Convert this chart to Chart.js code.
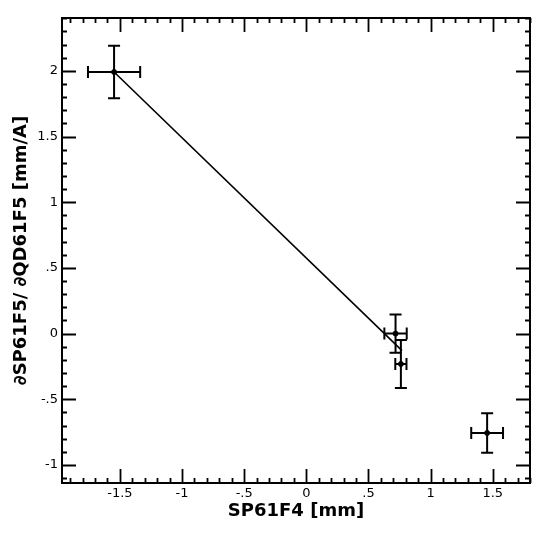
<!DOCTYPE html>
<html>
<head>
<meta charset="utf-8">
<script src="https://cdn.jsdelivr.net/npm/chart.js@4/dist/chart.umd.min.js"></script>
<style>
  html, body { margin: 0; padding: 0; background: #fff; }
  #wrap { width: 539px; height: 539px; }
</style>
</head>
<body>
<div id="wrap"><canvas id="chart"></canvas></div>
<script>
// measured points with error bars
var xVals = [-1.547, 0.718, 0.761, 1.455];
var yVals = [1.991, 0.0, -0.231, -0.756];
var xErr = [0.21, 0.09, 0.045, 0.128];
var yErr = [0.2, 0.145, 0.183, 0.15];

// straight line drawn through the first points
var lineX = [-1.547, 0.77];
var lineY = [1.991, -0.13];

var xTicks = [-1.5, -1, -0.5, 0, 0.5, 1, 1.5];
var yTicks = [-1, -0.5, 0, 0.5, 1, 1.5, 2];

function fmt(v) {
    return String(v).replace('0.', '.');
}

var pts = xVals.map(function (x, i) { return {x: x, y: yVals[i]}; });
var linePts = lineX.map(function (x, i) { return {x: x, y: lineY[i]}; });

// frame, inward ticks and error bars
var decor = {
    id: 'decor',
    afterDatasetsDraw: function (chart) {
        var ctx = chart.ctx;
        var a = chart.chartArea;
        var xs = chart.scales.x, ys = chart.scales.y;
        ctx.save();
        ctx.strokeStyle = '#000';
        ctx.lineCap = 'butt';

        // error bars
        ctx.lineWidth = 2;
        var cap = 6;
        for (var i = 0; i < xVals.length; i++) {
            var px = xs.getPixelForValue(xVals[i]);
            var py = ys.getPixelForValue(yVals[i]);
            var x0 = xs.getPixelForValue(xVals[i] - xErr[i]);
            var x1 = xs.getPixelForValue(xVals[i] + xErr[i]);
            var y0 = ys.getPixelForValue(yVals[i] - yErr[i]);
            var y1 = ys.getPixelForValue(yVals[i] + yErr[i]);
            ctx.beginPath();
            ctx.moveTo(x0, py); ctx.lineTo(x1, py);
            ctx.moveTo(x0, py - cap); ctx.lineTo(x0, py + cap);
            ctx.moveTo(x1, py - cap); ctx.lineTo(x1, py + cap);
            ctx.moveTo(px, y0); ctx.lineTo(px, y1);
            ctx.moveTo(px - cap, y0); ctx.lineTo(px + cap, y0);
            ctx.moveTo(px - cap, y1); ctx.lineTo(px + cap, y1);
            ctx.stroke();
        }

        // frame
        ctx.lineWidth = 2;
        ctx.strokeRect(a.left, a.top, a.right - a.left, a.bottom - a.top);

        // minor ticks every 0.1, major every 0.5
        var major = 14, minor = 5;
        var v, p, len;
        ctx.beginPath();
        for (var k = Math.ceil(xs.min * 10); k <= Math.floor(xs.max * 10); k++) {
            v = k / 10;
            p = Math.round(xs.getPixelForValue(v)) + 0.5;
            len = (k % 5 === 0) ? major : minor;
            ctx.moveTo(p, a.bottom); ctx.lineTo(p, a.bottom - len);
            ctx.moveTo(p, a.top); ctx.lineTo(p, a.top + len);
        }
        for (k = Math.ceil(ys.min * 10); k <= Math.floor(ys.max * 10); k++) {
            v = k / 10;
            p = Math.round(ys.getPixelForValue(v)) + 0.5;
            len = (k % 5 === 0) ? major : minor;
            ctx.moveTo(a.left, p); ctx.lineTo(a.left + len, p);
            ctx.moveTo(a.right, p); ctx.lineTo(a.right - len, p);
        }
        ctx.lineWidth = 1.8;
        ctx.stroke();
        ctx.restore();
    }
};

var tickFont = {family: 'DejaVu Sans', size: 13};
var titleFont = {family: 'DejaVu Sans', size: 18, weight: 'bold'};

new Chart(document.getElementById('chart'), {
    type: 'scatter',
    data: {
        datasets: [{
            type: 'line',
            data: linePts,
            borderColor: '#000',
            borderWidth: 1.6,
            pointRadius: 0,
            fill: false
        }, {
            data: pts,
            backgroundColor: '#000',
            borderColor: '#000',
            pointRadius: 2.5
        }]
    },
    options: {
        responsive: true,
        maintainAspectRatio: false,
        animation: false,
        events: [],
        layout: { padding: {top: 18, right: 9, left: 0, bottom: 0} },
        plugins: { legend: {display: false}, tooltip: {enabled: false} },
        scales: {
            x: {
                type: 'linear',
                min: -1.966,
                max: 1.80,
                grid: {display: false, drawTicks: false},
                border: {display: false},
                afterBuildTicks: function (s) { s.ticks = xTicks.map(function (v) { return {value: v}; }); },
                afterFit: function (s) { s.height = 56; },
                ticks: {
                    color: '#000',
                    font: tickFont,
                    padding: 3,
                    maxRotation: 0,
                    callback: function (v) { return fmt(v); }
                },
                title: {
                    display: true,
                    text: 'SP61F4 [mm]',
                    color: '#000',
                    font: titleFont,
                    padding: {top: 0, bottom: 17}
                }
            },
            y: {
                type: 'linear',
                min: -1.137,
                max: 2.402,
                grid: {display: false, drawTicks: false},
                border: {display: false},
                afterBuildTicks: function (s) { s.ticks = yTicks.map(function (v) { return {value: v}; }); },
                afterFit: function (s) { s.width = 62; },
                ticks: {
                    color: '#000',
                    font: tickFont,
                    padding: 4,
                    callback: function (v) { return fmt(v); }
                },
                title: {
                    display: true,
                    text: '\u2202SP61F5/ \u2202QD61F5 [mm/A]',
                    color: '#000',
                    font: titleFont,
                    padding: {top: 11, bottom: 0}
                }
            }
        }
    },
    plugins: [decor]
});
</script>
</body>
</html>
